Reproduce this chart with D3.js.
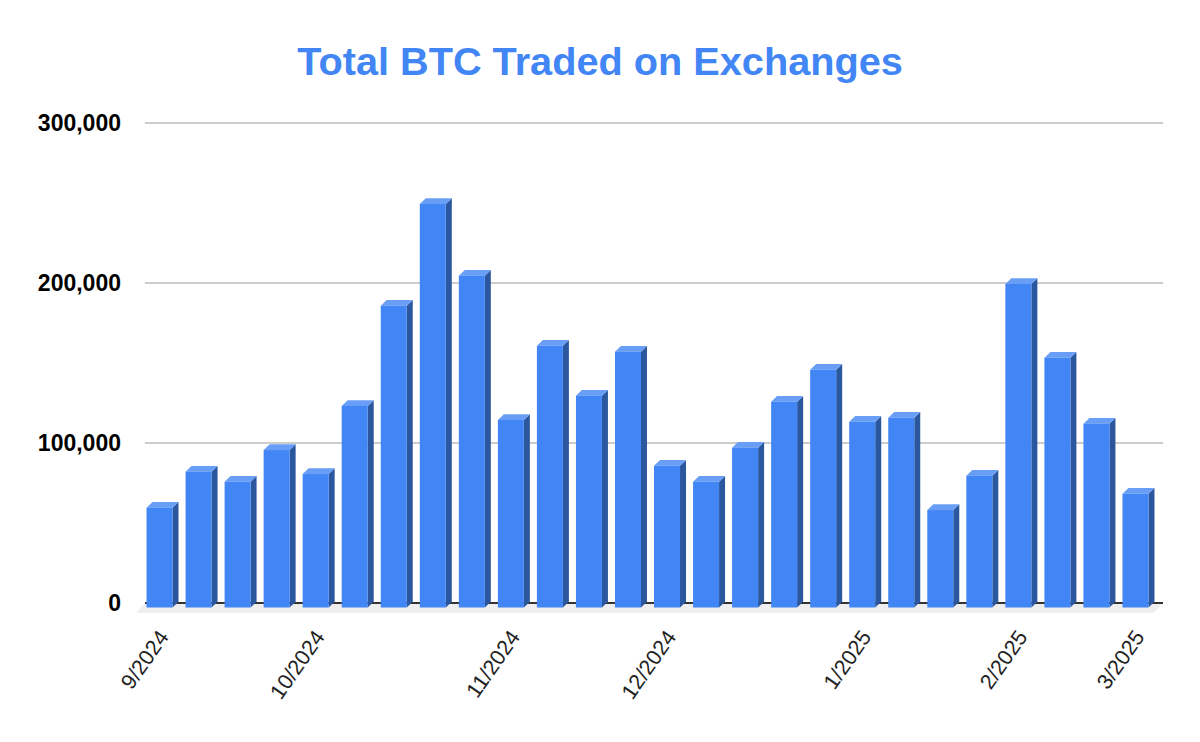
<!DOCTYPE html>
<html>
<head>
<meta charset="utf-8">
<script src="https://cdn.jsdelivr.net/npm/d3@7"></script>
<style>
  html, body { margin: 0; padding: 0; background: #fff; }
  svg { display: block; }
</style>
</head>
<body>
<svg id="chart" width="1200" height="742"></svg>
<script>
// ---- data ----
const title = "Total BTC Traded on Exchanges";
const weeks = d3.range(26).map(i => "W" + (i + 1));
const tickLabels = ["9/2024","","","","10/2024","","","","","11/2024","","","","12/2024","","","","","1/2025","","","","2/2025","","","3/2025"];
const btcTraded = [62400, 84900, 78600, 98400, 83400, 126000, 188600, 252200, 207400, 117200,
                   163600, 132400, 159900, 88600, 78600, 99900, 128600, 148600, 116100, 118600,
                   60900, 82400, 202200, 156100, 114900, 71100];
const yTicks = [0, 100000, 200000, 300000];

// ---- layout ----
const svg = d3.select("#chart");
const W = 1200, H = 742;
const x = d3.scaleBand().domain(weeks).range([140, 1155]).paddingInner(0.334).paddingOuter(0.167);
const y = d3.scaleLinear().domain([0, 300000]).range([603, 123]);
const gridL = 145, gridR = 1163;
const DX = 6, DY = 5.7, FRONT = 4.5;

// title
svg.append("text")
  .attr("x", W / 2).attr("y", 75)
  .attr("text-anchor", "middle")
  .attr("font-family", "Liberation Sans, Arial, sans-serif")
  .attr("font-weight", "bold")
  .attr("font-size", 39.7)
  .attr("fill", "#4285f4")
  .text(title);

// floor
svg.append("polygon")
  .attr("points", [[gridL, y(0)], [gridR, y(0)], [gridR - 10, y(0) + 10], [gridL - 9, y(0) + 10]].map(p => p.join(",")).join(" "))
  .attr("fill", "#eeeeee");

// gridlines
svg.append("g").selectAll("line").data(yTicks.filter(d => d > 0)).join("line")
  .attr("x1", gridL).attr("x2", gridR)
  .attr("y1", d => y(d)).attr("y2", d => y(d))
  .attr("stroke", "#cccccc").attr("stroke-width", 2);

// baseline
svg.append("line")
  .attr("x1", gridL).attr("x2", gridR)
  .attr("y1", y(0)).attr("y2", y(0))
  .attr("stroke", "#333333").attr("stroke-width", 2);

// y labels
svg.append("g").selectAll("text").data(yTicks).join("text")
  .attr("x", 121).attr("y", d => y(d))
  .attr("dy", "0.36em")
  .attr("text-anchor", "end")
  .attr("font-family", "Liberation Sans, Arial, sans-serif")
  .attr("font-weight", "bold")
  .attr("font-size", 23)
  .attr("fill", "#000")
  .text(d => d3.format(",")(d));

// bars
const bw = x.bandwidth();
const bars = svg.append("g").selectAll("g").data(weeks.map((w, i) => ({ w, v: btcTraded[i] }))).join("g");
bars.each(function (d) {
  const g = d3.select(this);
  const x0 = x(d.w), ft = y(d.v) + FRONT, fb = y(0) + FRONT;
  g.append("polygon")
    .attr("points", [[x0 + bw, ft], [x0 + bw + DX, ft - DY], [x0 + bw + DX, fb - DY], [x0 + bw, fb]].map(p => p.join(",")).join(" "))
    .attr("fill", "#2b579f");
  g.append("polygon")
    .attr("points", [[x0, ft], [x0 + DX, ft - DY], [x0 + bw + DX, ft - DY], [x0 + bw, ft]].map(p => p.join(",")).join(" "))
    .attr("fill", "#699ef6");
  g.append("rect")
    .attr("x", x0).attr("y", ft).attr("width", bw).attr("height", fb - ft)
    .attr("fill", "#4285f4");
});

// x labels
svg.append("g").selectAll("text").data(weeks.map((w, i) => ({ w, t: tickLabels[i] })).filter(d => d.t)).join("text")
  .attr("transform", d => `translate(${x(d.w) + bw / 2 + 10},637) rotate(-55)`)
  .attr("text-anchor", "end")
  .attr("font-family", "Liberation Sans, Arial, sans-serif")
  .attr("font-size", 21.5)
  .attr("fill", "#222")
  .text(d => d.t);
</script>
</body>
</html>
